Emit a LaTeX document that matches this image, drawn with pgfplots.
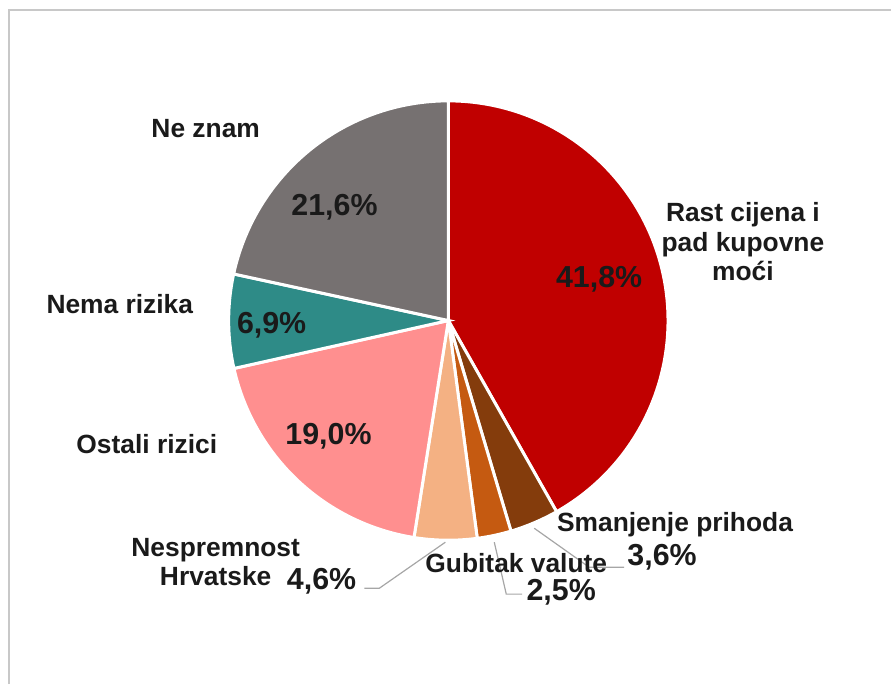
\documentclass[border=0pt]{standalone}
\usepackage{pgfplots}
\pgfplotsset{compat=1.18}
\usepackage{fontspec}
\setmainfont{Liberation Sans}

\definecolor{cRast}{HTML}{C00000}
\definecolor{cPrihod}{HTML}{843C0C}
\definecolor{cValuta}{HTML}{C55A11}
\definecolor{cHrv}{HTML}{F4B183}
\definecolor{cOstali}{HTML}{FF8F8F}
\definecolor{cNema}{HTML}{2E8B87}
\definecolor{cNeznam}{HTML}{767171}
\definecolor{txt}{HTML}{1A1A1A}
\definecolor{frame}{HTML}{C8C8C8}
\definecolor{lead}{HTML}{A6A6A6}

% shares (%): 41.8, 3.6, 2.5, 4.6, 19.0, 6.9, 21.6 -> clockwise from 12 o'clock
% angles (deg, screen coords, y down): -90, 60.48, 73.44, 82.44, 99.00, 167.40, 192.24, 270

\newcommand{\lab}{\fontsize{13.2}{14.8}\selectfont\bfseries}
\newcommand{\pct}{\fontsize{15.2}{17}\selectfont\bfseries}

\begin{document}
\begin{tikzpicture}[every node/.style={inner sep=0.5pt}]
\begin{axis}[
  width=446pt, height=342.5pt, scale only axis,
  xmin=0, xmax=892, ymin=0, ymax=685,
  y dir=reverse,
  hide axis, clip=false,
]
\path (axis cs:0,0) rectangle (axis cs:892,685);
% frame (left and top only, cropped)
\addplot[frame, line width=1.3pt, no marks] coordinates {(9,685) (9,10) (892,10)};

% slices
\pgfplotsset{slice/.style={draw=white, line width=1.5pt, samples=120, no marks}}
\addplot[slice, fill=cRast,   domain=-90:60.48]   ({449+220*cos(x)},{321+220*sin(x)}) -- (axis cs:449,321) -- cycle;
\addplot[slice, fill=cPrihod, domain=60.48:73.44] ({449+220*cos(x)},{321+220*sin(x)}) -- (axis cs:449,321) -- cycle;
\addplot[slice, fill=cValuta, domain=73.44:82.44] ({449+220*cos(x)},{321+220*sin(x)}) -- (axis cs:449,321) -- cycle;
\addplot[slice, fill=cHrv,    domain=82.44:99.00] ({449+220*cos(x)},{321+220*sin(x)}) -- (axis cs:449,321) -- cycle;
\addplot[slice, fill=cOstali, domain=99.00:167.40] ({449+220*cos(x)},{321+220*sin(x)}) -- (axis cs:449,321) -- cycle;
\addplot[slice, fill=cNema,   domain=167.40:192.24] ({449+220*cos(x)},{321+220*sin(x)}) -- (axis cs:449,321) -- cycle;
\addplot[slice, fill=cNeznam, domain=192.24:270]  ({449+220*cos(x)},{321+220*sin(x)}) -- (axis cs:449,321) -- cycle;

% leader lines
\addplot[lead, line width=0.6pt, no marks] coordinates {(446,543) (380,589) (365,589)};
\addplot[lead, line width=0.6pt, no marks] coordinates {(495,543) (507,595) (523,595)};
\addplot[lead, line width=0.6pt, no marks] coordinates {(535,529) (590,568) (625,568)};

% category labels
\node[txt, align=center, font=\lab] at (axis cs:744,242) {Rast cijena i\\pad kupovne\\moći};
\node[txt, font=\lab] at (axis cs:206,129) {Ne znam};
\node[txt, font=\lab] at (axis cs:120,305) {Nema rizika};
\node[txt, font=\lab] at (axis cs:147,445) {Ostali rizici};
\node[txt, align=center, font=\lab] at (axis cs:216,563) {Nespremnost\\Hrvatske};
\node[txt, font=\lab] at (axis cs:676,525) {Smanjenje prihoda};
\node[txt, font=\lab] at (axis cs:517,564) {Gubitak valute};

% value labels
\node[txt, font=\pct] at (axis cs:600,280) {41,8\%};
\node[txt, font=\pct] at (axis cs:335,208) {21,6\%};
\node[txt, font=\pct] at (axis cs:272,326) {6,9\%};
\node[txt, font=\pct] at (axis cs:329,437) {19,0\%};
\node[txt, font=\pct] at (axis cs:322,582) {4,6\%};
\node[txt, font=\pct] at (axis cs:663,558) {3,6\%};
\node[txt, font=\pct] at (axis cs:562,593) {2,5\%};
\end{axis}
\end{tikzpicture}
\end{document}
